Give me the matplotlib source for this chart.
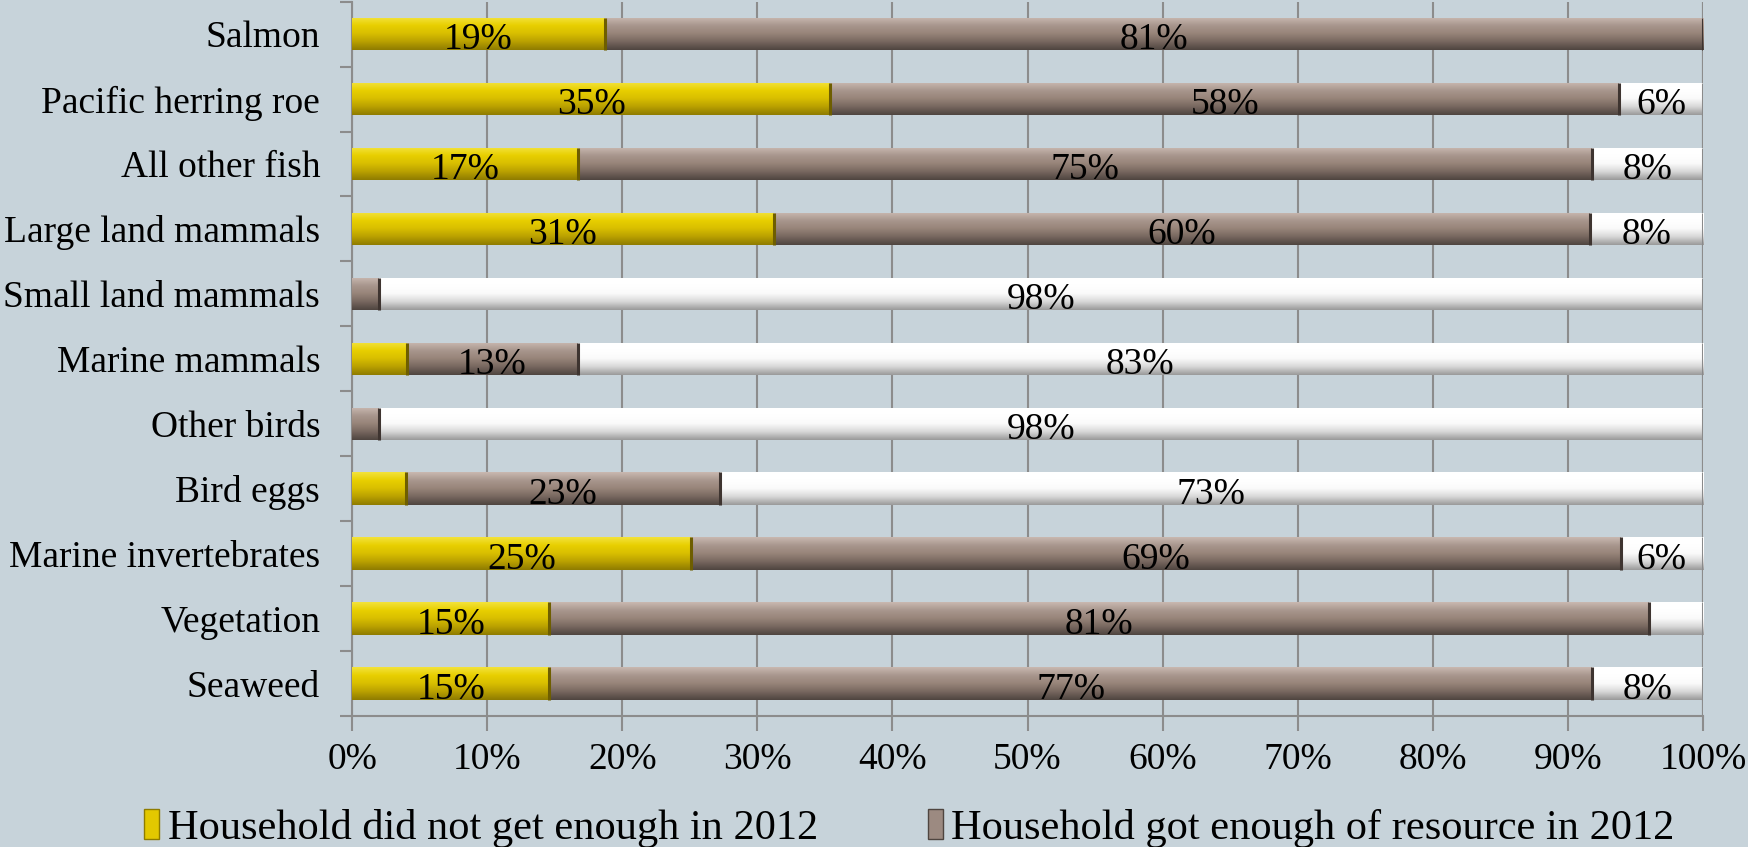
import numpy as np
import matplotlib
matplotlib.use("Agg")
import matplotlib.pyplot as plt
from matplotlib.colors import LinearSegmentedColormap
from matplotlib.patches import Patch

categories = ["Salmon", "Pacific herring roe", "All other fish", "Large land mammals",
              "Small land mammals", "Marine mammals", "Other birds", "Bird eggs",
              "Marine invertebrates", "Vegetation", "Seaweed"]
not_enough = [18.7, 35.4, 16.7, 31.2, 0.0, 4.1, 0.0, 4.0, 25.1, 14.6, 14.6]
got_enough = [81.3, 58.4, 75.1, 60.4, 2.0, 12.6, 2.0, 23.2, 68.8, 81.4, 77.2]
other = [0.0, 6.2, 8.2, 8.4, 98.0, 83.3, 98.0, 72.8, 6.1, 4.0, 8.2]
series_names = ["Household did not get enough in 2012",
                "Household got enough of resource in 2012",
                "Other"]
xticks = [0, 10, 20, 30, 40, 50, 60, 70, 80, 90, 100]

plt.rcParams['font.family'] = ['Liberation Serif', 'DejaVu Serif']
BG = "#C7D3DA"
GRID = "#8C8C8C"

fig = plt.figure(figsize=(17.49, 8.47), dpi=100, facecolor=BG)
ax = fig.add_axes([0.2013, 0.1547, 0.7724, 0.8433], facecolor=BG)

series = [not_enough, got_enough, other]
base_cols = ["#E3C800", "#9C8A81", "#FFFFFF"]
grads = [
    ["#F3E23A", "#E8CF00", "#D8BE00", "#B9A000", "#8F7C00"],
    ["#C9B8B0", "#A8968D", "#978479", "#77675F", "#4F4540"],
    ["#FFFFFF", "#FFFFFF", "#FAFAFA", "#D8D8D8", "#9A9A9A"],
]
edge_dark = ["#6E5E00", "#3E3430", "#8A8A8A"]

y = np.arange(len(categories))
h = 0.5
left = np.zeros(len(categories))
bar_sets = []
for vals, col in zip(series, base_cols):
    bars = ax.barh(y, vals, left=left, height=h, color=col, edgecolor="none", zorder=3)
    bar_sets.append((bars, vals, left.copy()))
    left = left + np.array(vals)

# glossy gradient overlay clipped to each bar
for (bars, vals, lft), g, ed in zip(bar_sets, grads, edge_dark):
    cmap = LinearSegmentedColormap.from_list("g", g)
    grad = np.linspace(0, 1, 64).reshape(-1, 1)
    for r, v in zip(bars.patches, vals):
        if v <= 0:
            continue
        x0, y0 = r.get_x(), r.get_y()
        w, hh = r.get_width(), r.get_height()
        im = ax.imshow(grad, cmap=cmap, aspect="auto", origin="upper",
                       extent=(x0, x0 + w, y0 + hh, y0), zorder=4, interpolation="bicubic")
        im.set_clip_path(r)
        ax.plot([x0 + w, x0 + w], [y0, y0 + hh], color=ed, lw=2.2, zorder=5,
                solid_capstyle="butt")

# labels
for bars, vals, lft in bar_sets:
    for yi, v, l in zip(y, vals, lft):
        if v >= 5:
            ax.text(l + v / 2, yi + 0.03, f"{round(v)}%", ha="center", va="center_baseline",
                    fontsize=27, color="black", zorder=6)

ax.set_xlim(0, 100)
ax.set_ylim(len(categories) - 0.5, -0.5)
ax.set_axisbelow(True)
ax.xaxis.grid(True, color=GRID, lw=1.5, zorder=0)
ax.axvline(100, color=GRID, lw=1.5, zorder=1)

ax.set_xticks(xticks)
ax.set_xticklabels([f"{t}%" for t in xticks], fontsize=27)
ax.tick_params(axis="x", length=11, width=1.5, color=GRID, pad=8)

ax.set_yticks(y)
ax.set_yticklabels(categories, fontsize=27)
ax.tick_params(axis="y", which="major", length=0, pad=23)
ax.set_yticks(np.arange(-0.5, len(categories) + 0.5, 1), minor=True)
ax.tick_params(axis="y", which="minor", length=9, width=1.5, color=GRID)

for s in ["top", "right"]:
    ax.spines[s].set_visible(False)
for s in ["left", "bottom"]:
    ax.spines[s].set_color(GRID)
    ax.spines[s].set_linewidth(1.5)

handles = [Patch(facecolor=base_cols[0], edgecolor="#8F7C00"),
           Patch(facecolor=base_cols[1], edgecolor="#4F4540")]
fig.legend(handles, series_names[:2], loc="center", bbox_to_anchor=(0.52, 0.022),
           ncol=2, frameon=False, fontsize=30.5, handlelength=0.35, handleheight=0.7,
           handletextpad=0.2, columnspacing=2.6)

fig.savefig("out.png", dpi=100, facecolor=BG)
